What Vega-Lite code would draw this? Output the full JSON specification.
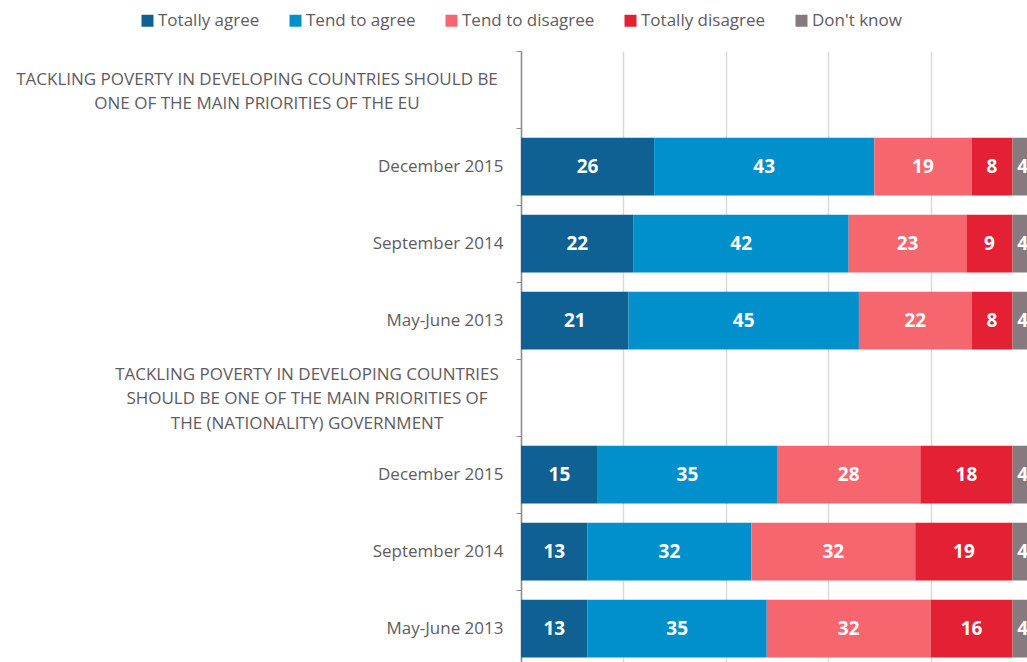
{
  "$schema": "https://vega.github.io/schema/vega-lite/v6.json",
  "width": 512,
  "height": 616,
  "autosize": {"type": "none"},
  "padding": {"left": 521, "top": 51, "right": 0, "bottom": 0},
  "background": "white",
  "config": {"view": {"stroke": null}, "font": "Open Sans"},
  "data": {
    "values": [
      {"row": "2|December 2015", "cat": "Totally agree", "o": 1, "val": 26},
      {"row": "2|December 2015", "cat": "Tend to agree", "o": 2, "val": 43},
      {"row": "2|December 2015", "cat": "Tend to disagree", "o": 3, "val": 19},
      {"row": "2|December 2015", "cat": "Totally disagree", "o": 4, "val": 8},
      {"row": "2|December 2015", "cat": "Don't know", "o": 5, "val": 4},
      {"row": "3|September 2014", "cat": "Totally agree", "o": 1, "val": 22},
      {"row": "3|September 2014", "cat": "Tend to agree", "o": 2, "val": 42},
      {"row": "3|September 2014", "cat": "Tend to disagree", "o": 3, "val": 23},
      {"row": "3|September 2014", "cat": "Totally disagree", "o": 4, "val": 9},
      {"row": "3|September 2014", "cat": "Don't know", "o": 5, "val": 4},
      {"row": "4|May-June 2013", "cat": "Totally agree", "o": 1, "val": 21},
      {"row": "4|May-June 2013", "cat": "Tend to agree", "o": 2, "val": 45},
      {"row": "4|May-June 2013", "cat": "Tend to disagree", "o": 3, "val": 22},
      {"row": "4|May-June 2013", "cat": "Totally disagree", "o": 4, "val": 8},
      {"row": "4|May-June 2013", "cat": "Don't know", "o": 5, "val": 4},
      {"row": "6|December 2015", "cat": "Totally agree", "o": 1, "val": 15},
      {"row": "6|December 2015", "cat": "Tend to agree", "o": 2, "val": 35},
      {"row": "6|December 2015", "cat": "Tend to disagree", "o": 3, "val": 28},
      {"row": "6|December 2015", "cat": "Totally disagree", "o": 4, "val": 18},
      {"row": "6|December 2015", "cat": "Don't know", "o": 5, "val": 4},
      {"row": "7|September 2014", "cat": "Totally agree", "o": 1, "val": 13},
      {"row": "7|September 2014", "cat": "Tend to agree", "o": 2, "val": 32},
      {"row": "7|September 2014", "cat": "Tend to disagree", "o": 3, "val": 32},
      {"row": "7|September 2014", "cat": "Totally disagree", "o": 4, "val": 19},
      {"row": "7|September 2014", "cat": "Don't know", "o": 5, "val": 4},
      {"row": "8|May-June 2013", "cat": "Totally agree", "o": 1, "val": 13},
      {"row": "8|May-June 2013", "cat": "Tend to agree", "o": 2, "val": 35},
      {"row": "8|May-June 2013", "cat": "Tend to disagree", "o": 3, "val": 32},
      {"row": "8|May-June 2013", "cat": "Totally disagree", "o": 4, "val": 16},
      {"row": "8|May-June 2013", "cat": "Don't know", "o": 5, "val": 4}
    ]
  },
  "transform": [
    {"stack": "val", "groupby": ["row"], "sort": [{"field": "o", "order": "ascending"}], "as": ["x0", "x1"]},
    {"calculate": "(datum.x0 + datum.x1) / 2", "as": "xm"}
  ],
  "encoding": {
    "y": {
      "field": "row",
      "type": "nominal",
      "scale": {
        "domain": [
          "1|TACKLING POVERTY IN DEVELOPING COUNTRIES SHOULD BE~ONE OF THE MAIN PRIORITIES OF THE EU",
          "2|December 2015",
          "3|September 2014",
          "4|May-June 2013",
          "5|TACKLING POVERTY IN DEVELOPING COUNTRIES~SHOULD BE ONE OF THE MAIN PRIORITIES OF~THE (NATIONALITY) GOVERNMENT",
          "6|December 2015",
          "7|September 2014",
          "8|May-June 2013"
        ],
        "paddingInner": 0.25,
        "paddingOuter": 0.125
      },
      "axis": {
        "title": null,
        "grid": false,
        "domain": true,
        "domainColor": "#8c8c8c",
        "domainWidth": 1.5,
        "ticks": true,
        "tickColor": "#8c8c8c",
        "tickSize": 5,
        "tickOffset": -38.5,
        "labelExpr": "split(slice(datum.value, 2), '~')",
        "labelFontSize": 17,
        "labelColor": "#625b5e",
        "labelLimit": 520,
        "labelLineHeight": 24.5,
        "labelAlign": {"condition": {"test": "indexof(datum.value, 'TACKLING') >= 0", "value": "center"}, "value": "right"},
        "labelOffset": {
          "condition": [
            {"test": "slice(datum.value, 0, 1) == '1'", "value": 28},
            {"test": "slice(datum.value, 0, 1) == '5'", "value": 15}
          ],
          "value": 38.5
        },
        "labelPadding": {
          "condition": [
            {"test": "slice(datum.value, 0, 1) == '1'", "value": 259.5},
            {"test": "slice(datum.value, 0, 1) == '5'", "value": 209.5}
          ],
          "value": 13
        }
      }
    }
  },
  "layer": [
    {
      "mark": {"type": "bar"},
      "encoding": {
        "x": {
          "field": "x0",
          "type": "quantitative",
          "scale": {"domain": [0, 100], "nice": false},
          "axis": {
            "title": null,
            "labels": false,
            "ticks": false,
            "domain": false,
            "grid": true,
            "values": [0, 20, 40, 60, 80, 100],
            "gridColor": "#d9d9d9",
            "gridWidth": 1.5
          }
        },
        "x2": {"field": "x1"},
        "color": {
          "field": "cat",
          "type": "nominal",
          "sort": ["Totally agree", "Tend to agree", "Tend to disagree", "Totally disagree", "Don't know"],
          "scale": {
            "domain": ["Totally agree", "Tend to agree", "Tend to disagree", "Totally disagree", "Don't know"],
            "range": ["#0e6192", "#0190cc", "#f6666f", "#e42134", "#877a7e"]
          },
          "legend": {
            "title": null,
            "orient": "none",
            "direction": "horizontal",
            "legendX": -382,
            "legendY": -39,
            "padding": 0,
            "symbolType": "square",
            "symbolSize": 144,
            "symbolStrokeWidth": 0,
            "symbolOffset": 0,
            "labelOffset": 2,
            "labelFontSize": 17,
            "labelColor": "#625b5e",
            "columnPadding": 27,
            "labelLimit": 300
          }
        }
      }
    },
    {
      "mark": {"type": "text", "color": "white", "fontWeight": "bold", "fontSize": 19, "baseline": "middle", "align": "center"},
      "encoding": {
        "x": {"field": "xm", "type": "quantitative"},
        "text": {"field": "val", "type": "quantitative"}
      }
    }
  ]
}
